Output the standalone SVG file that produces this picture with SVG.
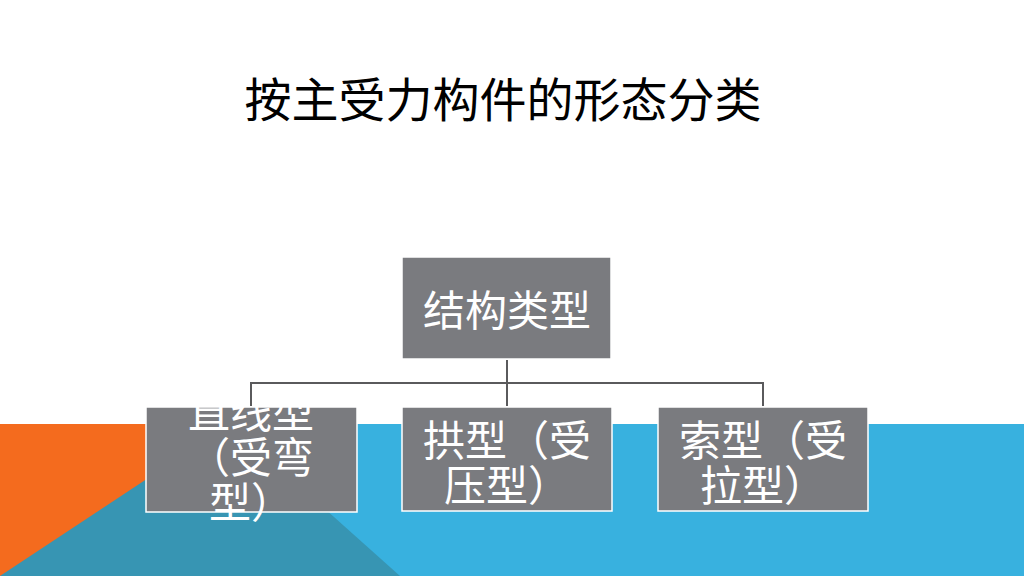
<svg xmlns="http://www.w3.org/2000/svg" width="1024" height="576" viewBox="0 0 1024 576">
<style>
.box{fill:#7A7B7F;stroke:#FFFFFF;stroke-width:1.5}
.t{font-family:"Noto Sans CJK SC","Noto Sans",sans-serif;fill:#FFFFFF;font-size:42px;text-anchor:middle}
.title{font-family:"Noto Sans CJK SC","Noto Sans",sans-serif;fill:#000000;font-size:47px;text-anchor:middle}
.conn{fill:none;stroke:#5A5A5C;stroke-width:2}
</style>
<defs>
<clipPath id="c1"><rect x="146" y="407" width="211" height="105"/></clipPath>
</defs>
<rect x="0" y="0" width="1024" height="576" fill="#FFFFFF"/>
<g id="background">
<rect x="0" y="424" width="220" height="152" fill="#F46B1E"/>
<rect x="220" y="424" width="804" height="152" fill="#38B1DF"/>
<polygon points="230,424 0,576 400,576" fill="#3795B3"/>
</g>
<text class="title" x="503" y="117">按主受力构件的形态分类</text>
<g id="node-root">
<rect class="box" x="402" y="257" width="209" height="102"/>
<text class="t" x="507" y="326">结构类型</text>
</g>
<g id="node-straight">
<rect class="box" x="146" y="407" width="211" height="105"/>
<g clip-path="url(#c1)">
<text class="t" x="251" y="428">直线型</text>
<text class="t" x="251" y="473">（受弯</text>
</g>
<text class="t" x="251" y="518">型）</text>
</g>
<g id="node-arch">
<rect class="box" x="402" y="407" width="210" height="104"/>
<text class="t" x="507" y="456">拱型（受</text>
<text class="t" x="507" y="501">压型）</text>
</g>
<g id="node-cable">
<rect class="box" x="658" y="407" width="210" height="104"/>
<text class="t" x="763" y="456">索型（受</text>
<text class="t" x="763" y="501">拉型）</text>
</g>
<g id="connectors">
<path class="conn" d="M507,360 V406 M251,406 V383 H763 V406"/>
</g>
</svg>
